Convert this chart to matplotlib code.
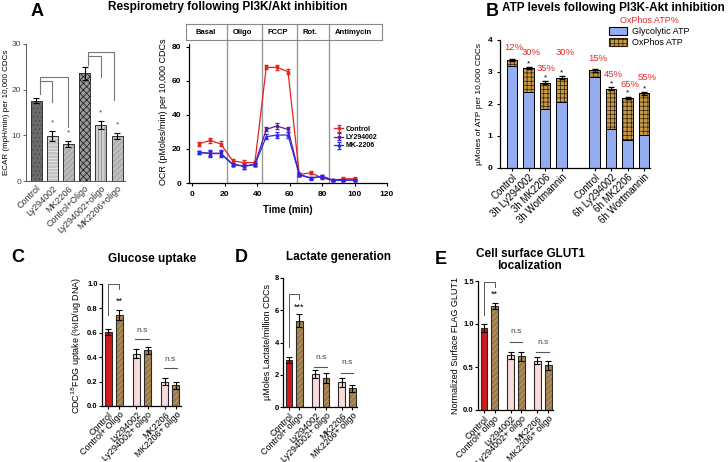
import matplotlib
matplotlib.use("Agg")
import matplotlib.pyplot as plt
from matplotlib.patches import Patch
import numpy as np

plt.rcParams['font.family'] = ['Liberation Sans', 'DejaVu Sans']
plt.rcParams['hatch.linewidth'] = 0.5

W, H = 728, 462

# ---- panel A: ECAR ----
ecar_labels = ["Control", "Ly294002", "MK2206", "Control+Oligo", "Ly294002+oligo", "MK2206+oligo"]
ecar_vals = [17.6, 9.9, 8.1, 23.6, 12.3, 9.9]
ecar_err = [0.5, 1.1, 0.7, 1.4, 0.9, 0.7]

# ---- panel A: OCR ----
ocr_time = [4, 11, 17.5, 25, 32, 38.6, 45.6, 52, 59, 66, 73, 80, 86.5, 93, 100]
ocr_control = [23, 25, 23, 13, 12, 12, 68, 68, 65.5, 5, 6, 3, 1.5, 2.5, 2.5]
ocr_control_err = [1, 1.5, 1.5, 1, 1.5, 1, 1.2, 1.5, 1.5, 1, 1, 0.8, 0.5, 0.8, 0.8]
ocr_ly = [18, 17.5, 17.5, 11, 10, 11, 31.5, 33.5, 31.5, 5, 3, 4, 1.8, 1.8, 1.8]
ocr_ly_err = [1, 1.5, 1.5, 1, 1.5, 1, 1.2, 1.5, 1.5, 0.8, 0.8, 0.8, 0.5, 0.5, 0.5]
ocr_mk = [18, 17.3, 17.3, 10.8, 9.8, 10.8, 27.2, 28.2, 28.2, 4.8, 2.8, 3.8, 1.6, 1.6, 1.6]
ocr_mk_err = [1, 2, 2, 1, 1.5, 1, 1.5, 2, 2, 0.8, 0.8, 0.8, 0.5, 0.5, 0.5]
phase_names = ["Basal", "Oligo", "FCCP", "Rot.", "Antimycin"]
phase_edges = [21.4, 43, 64.5, 84.3]

# ---- panel B: ATP ----
atp_labels = ["Control", "3h Ly294002", "3h MK2206", "3h Wortmannin",
              "Control", "6h Ly294002", "6h MK2206", "6h Wortmannin"]
atp_glyco = [3.18, 2.38, 1.83, 2.07, 2.85, 1.21, 0.88, 1.02]
atp_total = [3.38, 3.12, 2.67, 2.82, 3.05, 2.48, 2.20, 2.33]
atp_err = [0.04, 0.04, 0.04, 0.04, 0.04, 0.04, 0.03, 0.04]
atp_pct = ["12%", "30%", "35%", "30%", "15%", "45%", "65%", "55%"]
atp_pct_x = [0.1, 1.15, 2.05, 3.2, 5.2, 6.15, 7.15, 8.2]
atp_pct_y = [3.77, 3.62, 3.12, 3.62, 3.43, 2.93, 2.6, 2.84]
atp_star = [False, True, True, True, False, True, True, True]

# ---- panels C, D, E ----
cde_labels_c = ["Control", "Control+ Oligo", "Ly294002", "Ly294002+ oligo", "MK2206", "MK2206+ oligo"]
cde_labels = ["Control", "Control+ oligo", "Ly294002", "Ly294002+ oligo", "MK2206", "MK2206+ oligo"]
glucose = [0.61, 0.745, 0.43, 0.455, 0.20, 0.17]
glucose_err = [0.025, 0.04, 0.04, 0.03, 0.03, 0.03]
lactate = [2.9, 5.35, 2.05, 1.78, 1.52, 1.15]
lactate_err = [0.18, 0.4, 0.25, 0.3, 0.25, 0.22]
glut1 = [0.95, 1.21, 0.635, 0.625, 0.575, 0.52]
glut1_err = [0.045, 0.035, 0.045, 0.055, 0.04, 0.055]

fig = plt.figure(figsize=(W / 100, H / 100), dpi=100)


def add_ax(l, t, r, b):
    return fig.add_axes([l / W, 1 - b / H, (r - l) / W, (b - t) / H])


def ftext(x, y, s, **kw):
    fig.text(x / W, 1 - y / H, s, **kw)


def clean(ax):
    ax.spines['top'].set_visible(False)
    ax.spines['right'].set_visible(False)


# ================= A: ECAR =================
ax = add_ax(26, 44, 125, 181)
clean(ax)
xe = np.arange(len(ecar_vals))
faces = ['#6a6a6a', '#c4c4c4', '#ababab', '#9a9a9a', '#cfcfcf', '#b0b0b0']
hatches = ['....', '-----', '//////', 'xxxxx', '|||||', '//////']
hcols = ['#444444', '#f0f0f0', '#d8d8d8', '#111111', '#888888', '#d8d8d8']
for i in range(len(xe)):
    ax.bar(xe[i], ecar_vals[i], 0.68, color=faces[i], hatch=hatches[i], edgecolor=hcols[i], lw=0)
    ax.bar(xe[i], ecar_vals[i], 0.68, fill=False, edgecolor='#333333', lw=0.7)
ax.errorbar(xe, ecar_vals, yerr=ecar_err, fmt='none', ecolor='black', capsize=2, elinewidth=0.8, capthick=0.8)
for i in [1, 2, 4, 5]:
    ax.text(xe[i], ecar_vals[i] + ecar_err[i] + 1.0, "*", ha='center', va='bottom', fontsize=6, color='#555555')
bc = '#777777'
ax.plot([0.25, 0.25, 1.96, 1.96], [19, 22.8, 22.8, 11.9], color=bc, lw=0.8, clip_on=False)
ax.plot([0.25, 1.0, 1.0], [22, 22, 17.4], color=bc, lw=0.8, clip_on=False)
ax.plot([3.2, 3.2, 4.8, 4.8], [25.5, 28.3, 28.3, 17.7], color=bc, lw=0.8, clip_on=False)
ax.plot([3.2, 4.0, 4.0], [27.4, 27.4, 22.8], color=bc, lw=0.8, clip_on=False)
ax.set_xlim(-0.62, 5.49)
ax.set_ylim(0, 30)
ax.set_yticks([0, 10, 20, 30])
ax.set_xticks(xe)
ax.set_xticklabels(ecar_labels, rotation=45, ha='right', rotation_mode='anchor', fontsize=6.5, color='#333333')
ax.tick_params(axis='y', labelsize=6, colors='#444444', length=2, width=0.6, pad=1.5)
ax.tick_params(axis='x', length=0, pad=2)
ax.set_ylabel("ECAR (mpH/min) per 10,000 CDCs", fontsize=5.8, labelpad=1)
for s in ax.spines.values():
    s.set_linewidth(0.7)
    s.set_color('#555555')

# ================= A: OCR =================
ax = add_ax(189, 40, 387, 183)
clean(ax)
ax.set_xlim(-2, 120)
ax.set_ylim(0, 84.1)
ax.spines['left'].set_bounds(0, 82)
for e in phase_edges:
    ax.axvline(e, color='#999999', lw=1.0, zorder=0)
ax.errorbar(ocr_time, ocr_control, yerr=ocr_control_err, color='#e3231e', marker='s', ms=2, lw=0.9,
            capsize=1.5, elinewidth=0.7, label='Control')
ax.errorbar(ocr_time, ocr_ly, yerr=ocr_ly_err, color='#5a1f9a', marker='s', ms=2, lw=0.9,
            capsize=1.5, elinewidth=0.7, label='LY294002')
ax.errorbar(ocr_time, ocr_mk, yerr=ocr_mk_err, color='#2828f0', marker='^', ms=2, lw=0.9,
            capsize=1.5, elinewidth=0.7, label='MK-2206')
ax.set_xticks([0, 20, 40, 60, 80, 100, 120])
ax.set_yticks([0, 20, 40, 60, 80])
ax.tick_params(labelsize=6, length=2, width=0.8)
ax.tick_params(axis='x', pad=4)
for t in ax.get_xticklabels() + ax.get_yticklabels():
    t.set_fontweight('bold')
ax.set_xlabel("Time (min)", fontsize=7, fontweight='bold', labelpad=5)
ax.set_ylabel("OCR (pMoles/min) per 10,000 CDCs", fontsize=6.5, labelpad=3)
leg = ax.legend(loc='upper left', bbox_to_anchor=(0.72, 0.42), fontsize=5, frameon=False,
                handlelength=1.2, handletextpad=0.4, labelspacing=0.2, borderaxespad=0)
for t in leg.get_texts():
    t.set_fontweight('bold')
for s in ax.spines.values():
    s.set_linewidth(0.9)

# header box
hb = add_ax(186, 24, 382, 40)
hb.set_xlim(-3.8, 116.9)
hb.set_ylim(0, 1)
hb.set_xticks([])
hb.set_yticks([])
for s in hb.spines.values():
    s.set_color('#888888')
    s.set_linewidth(0.8)
for e in phase_edges:
    hb.axvline(e, color='#999999', lw=1.0)
starts = [-1.5] + phase_edges
for name, st in zip(phase_names, starts):
    hb.text(st + 3.5, 0.5, name, fontsize=5.5, fontweight='bold', va='center', ha='left')

ftext(37, 12, "A", fontsize=13, fontweight='bold', ha='center', va='center')
ftext(228, 7, "Respirometry following PI3K/Akt inhibition", fontsize=8.5, fontweight='bold',
      ha='center', va='center')

# ================= B: ATP =================
ax = add_ax(500, 40, 650, 168)
clean(ax)
xb = np.array([0, 1, 2, 3, 5, 6, 7, 8])
ox = np.array(atp_total) - np.array(atp_glyco)
ax.bar(xb, atp_glyco, 0.62, color='#94adf0', edgecolor='black', lw=0.7, label='Glycolytic ATP')
ax.bar(xb, ox, 0.62, bottom=atp_glyco, color='#c99a45', hatch='++++', edgecolor='#2a1e0a', lw=0)
ax.bar(xb, ox, 0.62, bottom=atp_glyco, fill=False, edgecolor='black', lw=0.7)
ax.errorbar(xb, atp_total, yerr=atp_err, fmt='none', ecolor='black', capsize=2, elinewidth=0.7)
for i in range(len(xb)):
    if atp_star[i]:
        ax.text(xb[i], atp_total[i] + 0.03, "*", ha='center', va='bottom', fontsize=6)
    ax.text(atp_pct_x[i], atp_pct_y[i], atp_pct[i], color='#e8292a',
            fontsize=6.8, ha='center', va='center')
ax.set_xlim(-0.73, 8.36)
ax.set_ylim(0, 4)
ax.set_yticks([0, 1, 2, 3, 4])
ax.set_xticks(xb)
ax.set_xticklabels(atp_labels, rotation=45, ha='right', rotation_mode='anchor', fontsize=7)
ax.tick_params(axis='y', labelsize=6, length=2, width=0.8)
ax.tick_params(axis='x', length=2, width=0.8, pad=1)
for t in ax.get_yticklabels():
    t.set_fontweight('bold')
ax.set_ylabel("\u00b5Moles of ATP per 10,000 CDCs", fontsize=6, labelpad=3)
for s in ax.spines.values():
    s.set_linewidth(0.9)
handles = [Patch(facecolor='#94adf0', edgecolor='black', lw=0.8, label='Glycolytic ATP'),
           Patch(facecolor='#c99a45', edgecolor='#2a1e0a', hatch='++++', lw=0.8, label='OxPhos ATP')]
leg = fig.legend(handles=handles, loc='upper left', bbox_to_anchor=(603 / W, 1 - 10 / H),
                 fontsize=6.5, frameon=False, title="OxPhos ATP%", title_fontsize=6.5,
                 handlelength=2.0, handleheight=0.9, handletextpad=0.5, labelspacing=0.2, borderpad=0.2)
leg.get_title().set_color('#e8292a')
ftext(492, 12, "B", fontsize=13, fontweight='bold', ha='center', va='center')
ftext(613, 8, "ATP levels following PI3K-Akt inhibition", fontsize=8.5, fontweight='bold',
      ha='center', va='center')


# ================= C, D, E =================
def small_bars(box, vals, errs, labels, ylim, yticks, fmt, ylabel, stats):
    ax = add_ax(*box)
    clean(ax)
    x = np.array([0, 1, 2.5, 3.5, 5, 6])
    cols = ['#cf1a1e', '#9c7a4a', '#f8dcdc', '#9c7a4a', '#f8dcdc', '#9c7a4a']
    for i in range(6):
        if i in (1, 3, 5):
            ax.bar(x[i], vals[i], 0.62, color=cols[i], hatch='//////', edgecolor='#c8a878', lw=0)
            ax.bar(x[i], vals[i], 0.62, fill=False, edgecolor='#2a2a2a', lw=0.8)
        else:
            ax.bar(x[i], vals[i], 0.62, color=cols[i], edgecolor='#2a2a2a', lw=0.8)
    ax.errorbar(x, vals, yerr=errs, fmt='none', ecolor='black', capsize=2, elinewidth=0.8, capthick=0.8)
    ax.set_xlim(-0.55, 6.45)
    ax.set_ylim(*ylim)
    ax.set_yticks(yticks)
    ax.set_yticklabels([fmt.format(v) for v in yticks], fontweight='bold')
    ax.set_xticks(x)
    ax.set_xticklabels(labels, rotation=45, ha='right', rotation_mode='anchor', fontsize=6.5)
    ax.tick_params(axis='y', labelsize=5.5, length=2, width=0.8, pad=1)
    ax.tick_params(axis='x', length=2, width=0.8, pad=1)
    ax.set_ylabel(ylabel, fontsize=6.5, labelpad=2)
    for s in ax.spines.values():
        s.set_linewidth(0.9)
    top, left_leg, right_leg, star_y, star, ns1, ln1, ns2, ln2 = stats
    ax.plot([0, 0, 1, 1], [left_leg, top, top, right_leg], color='#555555', lw=0.7)
    ax.text(1, star_y, star, ha='center', va='center', fontsize=6.5)
    ax.text(3.0, ns1, "n.s", ha='center', va='center', fontsize=6, color='#444444')
    ax.plot([2.4, 3.6], [ln1, ln1], color='#555555', lw=0.8)
    ax.text(5.5, ns2, "n.s", ha='center', va='center', fontsize=6, color='#444444')
    ax.plot([4.9, 6.1], [ln2, ln2], color='#555555', lw=0.8)
    return ax


small_bars((102, 284, 181, 406), glucose, glucose_err, cde_labels_c, (0, 1.0), [0.0, 0.2, 0.4, 0.6, 0.8, 1.0],
           "{:.1f}", "CDC$^{18}$FDG uptake (%ID/ug DNA)",
           (1.0, 0.75, 0.96, 0.86, "**", 0.62, 0.55, 0.38, 0.31))
small_bars((283, 278, 357, 407), lactate, lactate_err, cde_labels, (0, 8), [0, 2, 4, 6, 8],
           "{:d}", "\u00b5Moles Lactate/million CDCs",
           (7.0, 3.75, 6.67, 6.2, "***", 3.1, 2.5, 2.75, 2.1))
small_bars((478, 281, 553, 410), glut1, glut1_err, cde_labels, (0, 1.5), [0.0, 0.5, 1.0, 1.5],
           "{:.1f}", "Normalized Surface FLAG GLUT1",
           (1.49, 1.1, 1.43, 1.35, "**", 0.91, 0.79, 0.79, 0.68))

ftext(18, 258, "C", fontsize=13, fontweight='bold', ha='center', va='center')
ftext(152, 259, "Glucose uptake", fontsize=8.5, fontweight='bold', ha='center', va='center')
ftext(241, 258, "D", fontsize=13, fontweight='bold', ha='center', va='center')
ftext(338, 257, "Lactate generation", fontsize=8.5, fontweight='bold', ha='center', va='center')
ftext(441, 260, "E", fontsize=13, fontweight='bold', ha='center', va='center')
ftext(530, 260, "Cell surface GLUT1\nlocalization", fontsize=8.5, fontweight='bold', ha='center',
      va='center', linespacing=1.1)

fig.savefig("out.png", dpi=100)
